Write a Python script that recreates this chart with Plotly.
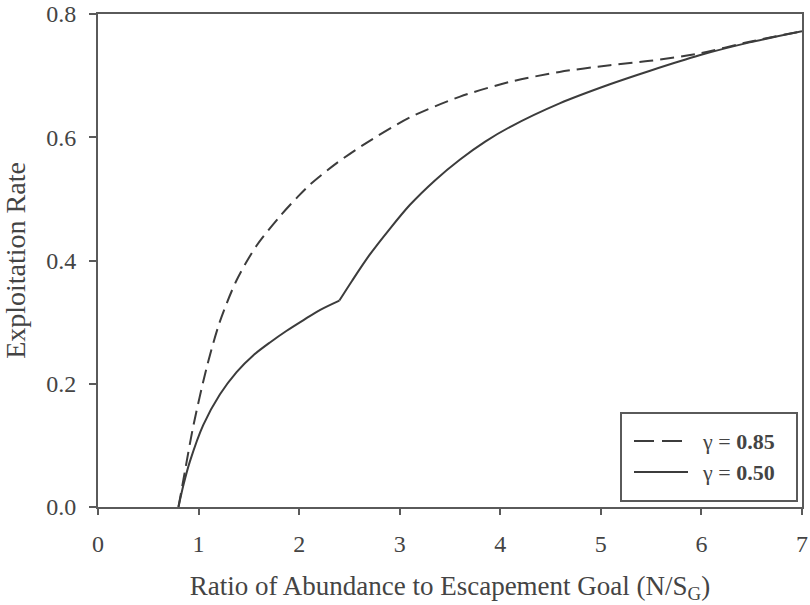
import plotly.graph_objects as go

# Exploitation rate vs. abundance ratio for two gamma values
ratio_g085 = [0.8, 0.85, 0.946, 1.08, 1.21, 1.378, 1.576, 1.81, 1.99, 2.107, 2.373,
              2.67, 3.10, 3.60, 4.10, 4.59, 5.09, 5.49, 5.98, 6.48, 7.0]
rate_g085 = [0.0, 0.045, 0.130, 0.226, 0.300, 0.368, 0.424, 0.472, 0.504, 0.523, 0.558,
             0.591, 0.632, 0.666, 0.690, 0.706, 0.717, 0.724, 0.736, 0.755, 0.772]

ratio_g050 = [0.8, 0.85, 0.914, 1.046, 1.213, 1.378, 1.543, 1.71, 1.876, 2.04, 2.21, 2.40,
              2.53, 2.70, 2.90, 3.10, 3.35, 3.60, 3.85, 4.10, 4.59, 5.09, 5.49, 5.98, 6.48, 7.0]
rate_g050 = [0.0, 0.036, 0.074, 0.133, 0.183, 0.219, 0.246, 0.267, 0.286, 0.303, 0.320, 0.335,
             0.368, 0.409, 0.451, 0.490, 0.530, 0.564, 0.593, 0.617, 0.655, 0.686, 0.708, 0.733, 0.754, 0.772]
# the gamma = 0.50 rule changes form at this abundance ratio (sharp corner)
break_ratio_g050 = 2.40

legend_labels = ["\u03b3 = <b>0.85</b>", "\u03b3 = <b>0.50</b>"]

x_ticks = [0, 1, 2, 3, 4, 5, 6, 7]
y_ticks = [0.0, 0.2, 0.4, 0.6, 0.8]

W, H = 810, 605
L, R, T, B = 98, 8, 14, 98
PW, PH = W - L - R, H - T - B

FONT = "Liberation Serif, Times New Roman, serif"
TXT = "#444444"
LINE = "#3c3c3c"
AX = "#5a5a5a"


def px(xp):
    return (xp - L) / PW


def py(yp):
    return (H - B - yp) / PH


fig = go.Figure()
fig.add_trace(go.Scatter(x=ratio_g085, y=rate_g085, mode="lines",
                         line=dict(color=LINE, width=2, dash="14px,7px", shape="spline", smoothing=0.8),
                         name=legend_labels[0], showlegend=False))

# solid curve: two smooth pieces meeting at the break point
k = ratio_g050.index(break_ratio_g050)
for xs, ys in ((ratio_g050[:k + 1], rate_g050[:k + 1]), (ratio_g050[k:], rate_g050[k:])):
    fig.add_trace(go.Scatter(x=xs, y=ys, mode="lines",
                             line=dict(color=LINE, width=2, shape="spline", smoothing=0.8),
                             name=legend_labels[1], showlegend=False))

# legend box drawn in paper coordinates
shapes = [
    dict(type="rect", xref="paper", yref="paper", x0=px(621), x1=px(797), y0=py(501), y1=py(413),
         line=dict(color=AX, width=2), fillcolor="white", layer="above"),
    dict(type="line", xref="paper", yref="paper", x0=px(634), x1=px(684), y0=py(441), y1=py(441),
         line=dict(color=LINE, width=2, dash="20px,8px"), layer="above"),
    dict(type="line", xref="paper", yref="paper", x0=px(634), x1=px(688), y0=py(472), y1=py(472),
         line=dict(color=LINE, width=2), layer="above"),
]
annotations = [
    dict(xref="paper", yref="paper", x=px(700), y=py(441), text=legend_labels[0], showarrow=False,
         xanchor="left", yanchor="middle", font=dict(family=FONT, size=22, color=TXT)),
    dict(xref="paper", yref="paper", x=px(700), y=py(472), text=legend_labels[1], showarrow=False,
         xanchor="left", yanchor="middle", font=dict(family=FONT, size=22, color=TXT)),
]

fig.update_layout(
    width=W, height=H,
    margin=dict(l=L, r=R, t=T, b=B),
    paper_bgcolor="white", plot_bgcolor="white",
    font=dict(family=FONT, color=TXT, size=22),
    shapes=shapes, annotations=annotations,
    showlegend=False,
)
fig.update_xaxes(
    range=[0, 7], tickvals=x_ticks, ticktext=[str(v) for v in x_ticks],
    showgrid=False, zeroline=False, showline=True, mirror=True,
    linecolor=AX, linewidth=2, ticks="outside", ticklen=6, tickwidth=2, tickcolor=AX,
    tickfont=dict(family=FONT, size=24, color=TXT), ticklabelstandoff=8,
    title=dict(text="Ratio of Abundance to Escapement Goal (N/S<sub>G</sub>)",
               font=dict(family=FONT, size=27, color=TXT), standoff=20),
    automargin=False,
)
fig.update_yaxes(
    range=[0, 0.8], tickvals=y_ticks, ticktext=[f"{v:.1f}" for v in y_ticks],
    showgrid=False, zeroline=False, showline=True, mirror=True,
    linecolor=AX, linewidth=2, ticks="outside", ticklen=7, tickwidth=2, tickcolor=AX,
    tickfont=dict(family=FONT, size=24, color=TXT), ticklabelstandoff=8,
    title=dict(text="Exploitation Rate", font=dict(family=FONT, size=28, color=TXT), standoff=12),
    automargin=False,
)

fig.write_html("out.html")
